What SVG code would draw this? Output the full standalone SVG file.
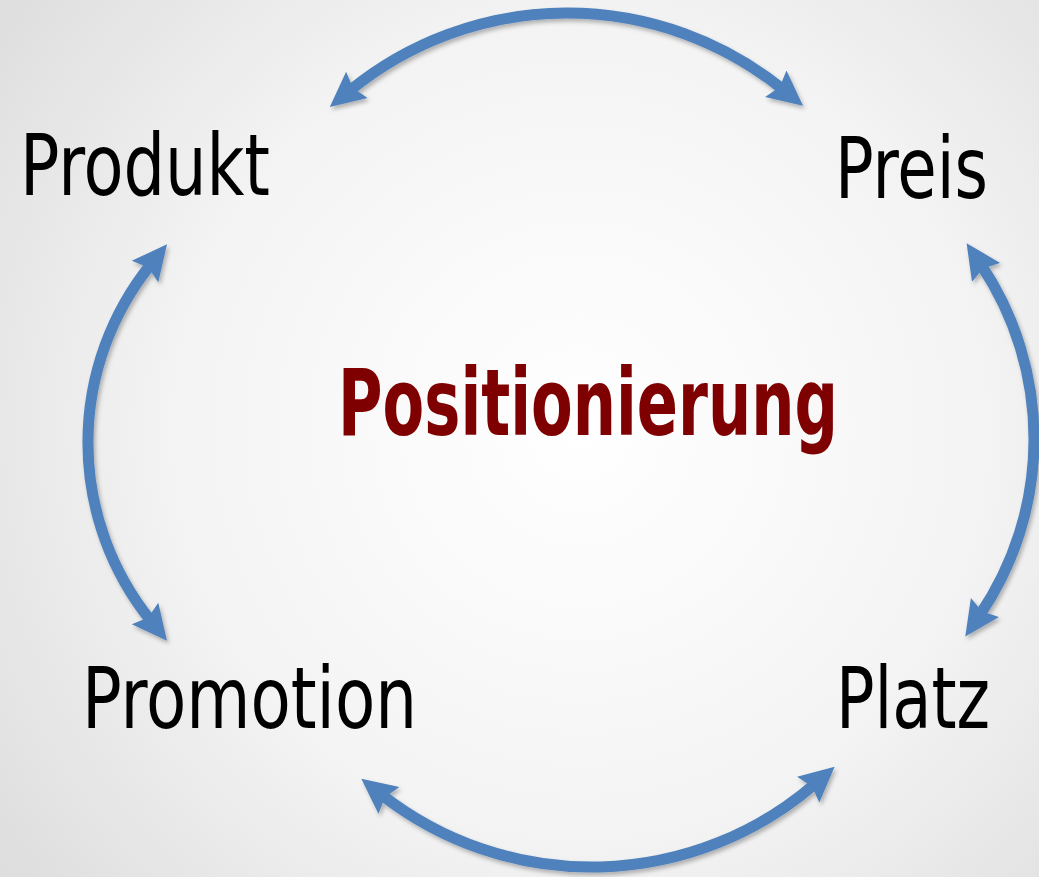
<svg xmlns="http://www.w3.org/2000/svg" width="1039" height="877" viewBox="0 0 1039 877">
  <defs>
    <radialGradient id="bg" cx="580" cy="430" r="720" gradientUnits="userSpaceOnUse">
      <stop offset="0" stop-color="#ffffff"/>
      <stop offset="0.55" stop-color="#f4f4f4"/>
      <stop offset="1" stop-color="#dedede"/>
    </radialGradient>
    <filter id="shadow" x="-10%" y="-10%" width="120%" height="120%">
      <feDropShadow dx="2" dy="3" stdDeviation="2" flood-color="#000" flood-opacity="0.28"/>
    </filter>
    <marker id="head" markerUnits="userSpaceOnUse" viewBox="0 -19 38 38" markerWidth="38" markerHeight="38" refX="9" refY="0" orient="auto-start-reverse">
      <path d="M0,-17 L35,0 L0,17 L5,0 Z" fill="#4f81bd"/>
    </marker>
  </defs>
  <style>
    .arc { fill: none; stroke: #4f81bd; stroke-width: 11; marker-start: url(#head); marker-end: url(#head); }
    .lbl { font-family: 'Liberation Sans Narrow', 'DejaVu Sans Condensed', 'Open Sans', sans-serif; font-stretch: condensed; font-size: 86px; fill: #000000; }
    .center { font-family: 'Liberation Sans Narrow', 'DejaVu Sans Condensed', 'Open Sans', sans-serif; font-stretch: condensed; font-size: 93px; font-weight: bold; fill: #7f0000; }
  </style>
  <rect x="0" y="0" width="1039" height="877" fill="url(#bg)"/>
  <g id="connectors" filter="url(#shadow)">
    <path class="arc" d="M 349.9 90.5 A 343 343 0 0 1 782.8 89.4"/>
    <path class="arc" d="M 981.1 264.9 A 312.9 312.9 0 0 1 979.9 614.9"/>
    <path class="arc" d="M 381.8 794.8 A 341 341 0 0 0 815 783.8"/>
    <path class="arc" d="M 150.7 264.5 A 283.8 283.8 0 0 0 150.7 620.5"/>
  </g>
  <g id="produkt"><text class="lbl" x="20" y="195" textLength="250" lengthAdjust="spacingAndGlyphs">Produkt</text></g>
  <g id="preis"><text class="lbl" x="835" y="198" textLength="153" lengthAdjust="spacingAndGlyphs">Preis</text></g>
  <g id="promotion"><text class="lbl" x="82" y="728" textLength="335" lengthAdjust="spacingAndGlyphs">Promotion</text></g>
  <g id="platz"><text class="lbl" x="836" y="728" textLength="154" lengthAdjust="spacingAndGlyphs">Platz</text></g>
  <g id="positionierung"><text class="center" x="338" y="435" textLength="500" lengthAdjust="spacingAndGlyphs">Positionierung</text></g>
</svg>
